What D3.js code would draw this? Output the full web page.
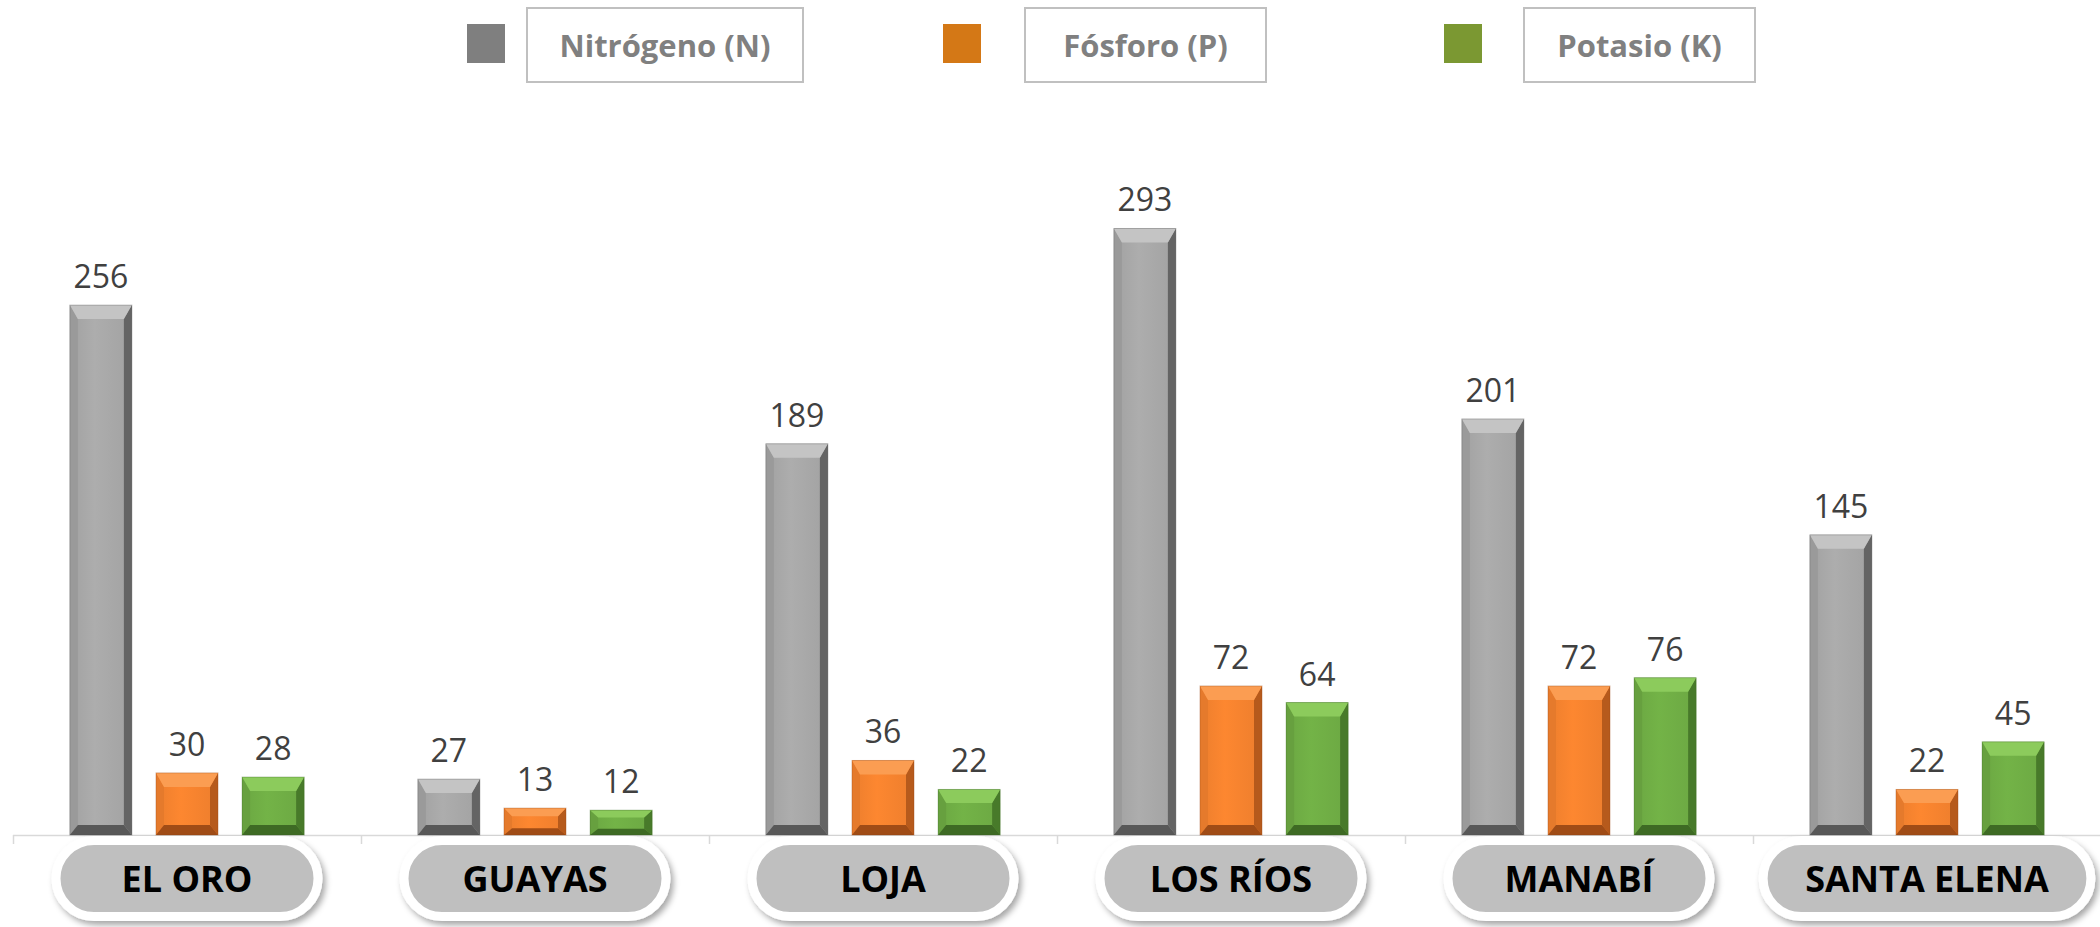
<!DOCTYPE html>
<html>
<head>
<meta charset="utf-8">
<script src="https://cdn.jsdelivr.net/npm/d3@7"></script>
<style>
  body { margin: 0; background: #fff; }
  svg { display: block; }
</style>
</head>
<body>
<svg id="viz"></svg>
<script>
// data
var provincias = ['EL ORO', 'GUAYAS', 'LOJA', 'LOS RÍOS', 'MANABÍ', 'SANTA ELENA'];
var series = ['Nitrógeno (N)', 'Fósforo (P)', 'Potasio (K)'];
var nitrogeno = [256, 27, 189, 293, 201, 145];
var fosforo = [30, 13, 36, 72, 72, 22];
var potasio = [28, 12, 22, 64, 76, 45];

var width = 2100, height = 927;
var baseY = 835;

// colours for each serie: legend, face, top, left, right, bottom
var palette = [
  { legend: '#7f7f7f', face: '#a8a8a8', hi: '#c4c4c4', left: '#9a9a9a', right: '#646464', low: '#585858' },
  { legend: '#d47816', face: '#f6832f', hi: '#fb9d52', left: '#e57a2c', right: '#b65a1c', low: '#a04c16' },
  { legend: '#7b9832', face: '#70ae45', hi: '#8ccb5c', left: '#67a03f', right: '#487a2a', low: '#3e6a24' }
];

var values = [nitrogeno, fosforo, potasio];

var svg = d3.select('#viz').attr('width', width).attr('height', height);

var defs = svg.append('defs');
var shadow = defs.append('filter').attr('id', 'pillShadow')
  .attr('x', '-10%').attr('y', '-30%').attr('width', '120%').attr('height', '160%');
shadow.append('feDropShadow')
  .attr('dx', 3).attr('dy', 4).attr('stdDeviation', 3)
  .attr('flood-color', '#000').attr('flood-opacity', 0.35);

palette.forEach(function (p, i) {
  var g = defs.append('linearGradient').attr('id', 'face' + i)
    .attr('x1', 0).attr('x2', 1).attr('y1', 0).attr('y2', 0);
  g.append('stop').attr('offset', '0%').attr('stop-color', d3.color(p.face).darker(0.12));
  g.append('stop').attr('offset', '40%').attr('stop-color', d3.color(p.face).brighter(0.08));
  g.append('stop').attr('offset', '100%').attr('stop-color', d3.color(p.face).darker(0.1));
});

var x0 = d3.scaleBand().domain(provincias).range([13, 2101]).padding(0);
var x1 = d3.scaleBand().domain(series).range([0, x0.bandwidth()])
  .paddingInner(0.28).paddingOuter(0.66);
var y = d3.scaleLinear().domain([0, 300]).range([baseY, baseY - 2.07 * 300]);

// axis line with ticks at the category boundaries
var axis = svg.append('g').attr('transform', 'translate(0,' + baseY + ')');
axis.append('line').attr('x1', 13).attr('x2', width).attr('y1', 0.5).attr('y2', 0.5)
  .attr('stroke', '#d9d9d9').attr('stroke-width', 1.5);
axis.selectAll('.tk')
  .data(provincias.concat(['end']))
  .enter().append('line')
  .attr('x1', function (d, i) { return Math.round(13 + i * x0.bandwidth()) + 0.5; })
  .attr('x2', function (d, i) { return Math.round(13 + i * x0.bandwidth()) + 0.5; })
  .attr('y1', 0).attr('y2', 9)
  .attr('stroke', '#d9d9d9').attr('stroke-width', 1.5);

// build bar list
var bars = [];
provincias.forEach(function (prov, pi) {
  series.forEach(function (s, si) {
    bars.push({ prov: prov, serie: s, si: si, value: values[si][pi] });
  });
});

var barG = svg.selectAll('.bar')
  .data(bars)
  .enter().append('g')
  .attr('class', 'bar');

barG.each(function (d) {
  var g = d3.select(this);
  var p = palette[d.si];
  var bx = x0(d.prov) + x1(d.serie);
  var bw = x1.bandwidth();
  var by = y(d.value);
  var bh = baseY - by;
  var side = 8;
  var top = Math.min(14, bh * 0.3);
  var bot = Math.min(10, bh * 0.25);
  var r = bx + bw, b = baseY;

  g.append('rect').attr('x', bx).attr('y', by).attr('width', bw).attr('height', bh)
    .attr('fill', 'url(#face' + d.si + ')');
  // left bevel
  g.append('polygon').attr('points', [[bx, by], [bx + side, by + top], [bx + side, b - bot], [bx, b]].join(' '))
    .attr('fill', p.left);
  // right bevel
  g.append('polygon').attr('points', [[r, by], [r - side, by + top], [r - side, b - bot], [r, b]].join(' '))
    .attr('fill', p.right);
  // top bevel
  g.append('polygon').attr('points', [[bx, by], [r, by], [r - side, by + top], [bx + side, by + top]].join(' '))
    .attr('fill', p.hi);
  // bottom bevel
  g.append('polygon').attr('points', [[bx, b], [r, b], [r - side, b - bot], [bx + side, b - bot]].join(' '))
    .attr('fill', p.low);
  g.append('rect').attr('x', bx).attr('y', by).attr('width', bw).attr('height', bh)
    .attr('fill', 'none').attr('stroke', d3.color(p.low).darker(0.2)).attr('stroke-opacity', 0.35);
});

// value labels
svg.selectAll('.val')
  .data(bars)
  .enter().append('text')
  .attr('class', 'val')
  .attr('x', function (d) { return x0(d.prov) + x1(d.serie) + x1.bandwidth() / 2; })
  .attr('y', function (d) { return y(d.value) - 17; })
  .attr('text-anchor', 'middle')
  .style('font-family', '"Open Sans", sans-serif')
  .style('font-size', '32px')
  .style('fill', '#404040')
  .text(function (d) { return d.value; });

// category pills
var pillH = 76, pillY = 840.5;
var pills = svg.selectAll('.pill')
  .data(provincias)
  .enter().append('g')
  .attr('class', 'pill');

pills.each(function (d) {
  var g = d3.select(this);
  var cx = x0(d) + x0.bandwidth() / 2;
  var t = g.append('text')
    .attr('x', cx).attr('y', pillY + pillH / 2 + 13)
    .attr('text-anchor', 'middle')
    .style('font-family', '"Open Sans", sans-serif')
    .style('font-weight', 'bold')
    .style('font-size', '36px')
    .style('fill', '#000')
    .text(d);
  var tw = t.node().getComputedTextLength();
  var pw = Math.max(262, tw + 84);
  g.insert('rect', 'text')
    .attr('x', cx - pw / 2).attr('y', pillY)
    .attr('width', pw).attr('height', pillH)
    .attr('rx', pillH / 2).attr('ry', pillH / 2)
    .attr('fill', '#bfbfbf')
    .attr('stroke', '#fff').attr('stroke-width', 9)
    .attr('filter', 'url(#pillShadow)');
});

// legend
var legendX = [467, 943, 1444];
var boxX = [60, 82, 80];
var boxW = [276, 241, 231];
var legend = svg.selectAll('.leg')
  .data(series)
  .enter().append('g')
  .attr('class', 'leg')
  .attr('transform', function (d, i) { return 'translate(' + legendX[i] + ',0)'; });

legend.append('rect')
  .attr('x', 0).attr('y', 24).attr('width', 38).attr('height', 39)
  .attr('fill', function (d, i) { return palette[i].legend; });

legend.append('rect')
  .attr('x', function (d, i) { return boxX[i]; }).attr('y', 8)
  .attr('width', function (d, i) { return boxW[i]; })
  .attr('height', 74)
  .attr('fill', '#fff')
  .attr('stroke', '#c0c0c0').attr('stroke-width', 2);

legend.append('text')
  .attr('x', function (d, i) { return boxX[i] + boxW[i] / 2; })
  .attr('y', 57)
  .attr('text-anchor', 'middle')
  .style('font-family', '"Open Sans", sans-serif')
  .style('font-weight', 'bold')
  .style('font-size', '31px')
  .style('fill', '#808080')
  .text(function (d) { return d; });
</script>
</body>
</html>
